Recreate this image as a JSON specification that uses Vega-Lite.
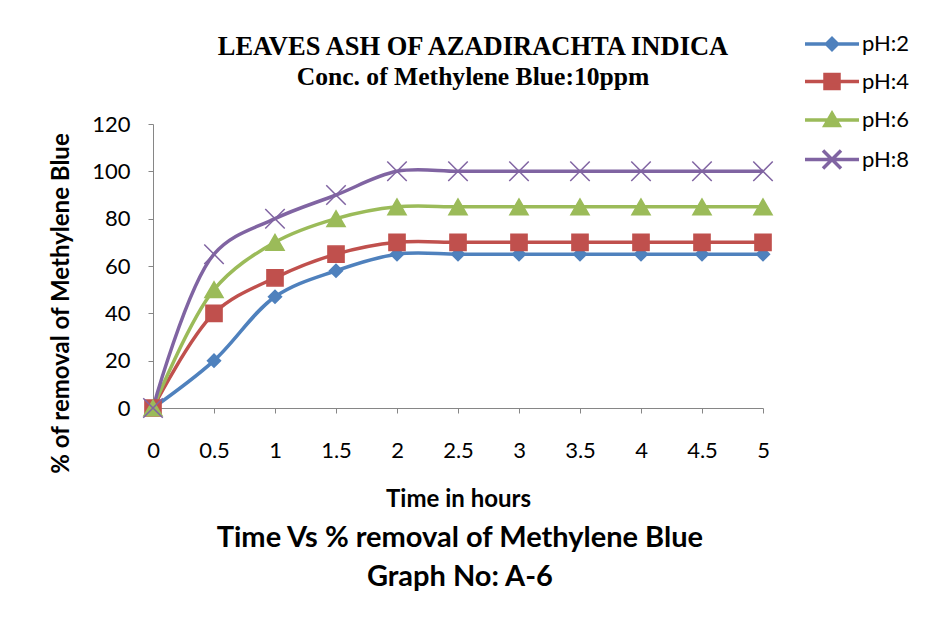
{
  "$schema": "https://vega.github.io/schema/vega-lite/v6.json",
  "background": "white",
  "padding": {"left": 49, "top": 32, "right": 5, "bottom": 5},
  "config": {"font": "Lato", "view": {"stroke": null}},
  "data": {"values": [
    {"time": 0, "removal": 0, "series": "pH:2"},
    {"time": 0.5, "removal": 20, "series": "pH:2"},
    {"time": 1, "removal": 47, "series": "pH:2"},
    {"time": 1.5, "removal": 58, "series": "pH:2"},
    {"time": 2, "removal": 65, "series": "pH:2"},
    {"time": 2.5, "removal": 65, "series": "pH:2"},
    {"time": 3, "removal": 65, "series": "pH:2"},
    {"time": 3.5, "removal": 65, "series": "pH:2"},
    {"time": 4, "removal": 65, "series": "pH:2"},
    {"time": 4.5, "removal": 65, "series": "pH:2"},
    {"time": 5, "removal": 65, "series": "pH:2"},
    {"time": 0, "removal": 0, "series": "pH:4"},
    {"time": 0.5, "removal": 40, "series": "pH:4"},
    {"time": 1, "removal": 55, "series": "pH:4"},
    {"time": 1.5, "removal": 65, "series": "pH:4"},
    {"time": 2, "removal": 70, "series": "pH:4"},
    {"time": 2.5, "removal": 70, "series": "pH:4"},
    {"time": 3, "removal": 70, "series": "pH:4"},
    {"time": 3.5, "removal": 70, "series": "pH:4"},
    {"time": 4, "removal": 70, "series": "pH:4"},
    {"time": 4.5, "removal": 70, "series": "pH:4"},
    {"time": 5, "removal": 70, "series": "pH:4"},
    {"time": 0, "removal": 0, "series": "pH:6"},
    {"time": 0.5, "removal": 50, "series": "pH:6"},
    {"time": 1, "removal": 70, "series": "pH:6"},
    {"time": 1.5, "removal": 80, "series": "pH:6"},
    {"time": 2, "removal": 85, "series": "pH:6"},
    {"time": 2.5, "removal": 85, "series": "pH:6"},
    {"time": 3, "removal": 85, "series": "pH:6"},
    {"time": 3.5, "removal": 85, "series": "pH:6"},
    {"time": 4, "removal": 85, "series": "pH:6"},
    {"time": 4.5, "removal": 85, "series": "pH:6"},
    {"time": 5, "removal": 85, "series": "pH:6"},
    {"time": 0, "removal": 0, "series": "pH:8"},
    {"time": 0.5, "removal": 65, "series": "pH:8"},
    {"time": 1, "removal": 80, "series": "pH:8"},
    {"time": 1.5, "removal": 90, "series": "pH:8"},
    {"time": 2, "removal": 100, "series": "pH:8"},
    {"time": 2.5, "removal": 100, "series": "pH:8"},
    {"time": 3, "removal": 100, "series": "pH:8"},
    {"time": 3.5, "removal": 100, "series": "pH:8"},
    {"time": 4, "removal": 100, "series": "pH:8"},
    {"time": 4.5, "removal": 100, "series": "pH:8"},
    {"time": 5, "removal": 100, "series": "pH:8"}
  ]},
  "title": {
    "text": "Time Vs % removal of Methylene Blue",
    "subtitle": "Graph No: A-6",
    "orient": "bottom",
    "anchor": "middle",
    "dx": -20,
    "font": "Lato", "fontSize": 29, "fontWeight": "bold", "color": "black",
    "subtitleFont": "Lato", "subtitleFontSize": 29, "subtitleFontWeight": "bold", "subtitleColor": "black",
    "subtitlePadding": 10,
    "offset": 13
  },
  "vconcat": [
    {
      "width": 610,
      "height": 284,
      "title": {
        "text": "LEAVES ASH OF AZADIRACHTA INDICA",
        "subtitle": "Conc. of Methylene Blue:10ppm",
        "font": "Liberation Serif", "fontSize": 26.5, "fontWeight": "bold", "color": "black",
        "subtitleFont": "Liberation Serif", "subtitleFontSize": 25.6, "subtitleFontWeight": "bold", "subtitleColor": "black",
        "subtitlePadding": 5,
        "offset": 22,
        "dx": 15
      },
      "encoding": {
        "x": {
          "field": "time", "type": "quantitative",
          "scale": {"domain": [0, 5], "nice": false, "zero": false},
          "axis": {
            "values": [0, 0.5, 1, 1.5, 2, 2.5, 3, 3.5, 4, 4.5, 5],
            "format": "~g",
            "grid": false, "domainColor": "#868686", "tickColor": "#868686", "tickSize": 5,
            "labelFont": "Lato", "labelFontSize": 22, "labelColor": "black", "labelPadding": 27,
            "labelFlush": false, "labelOverlap": false,
            "title": "Time in hours", "titleFont": "Lato", "titleFontSize": 24, "titleFontWeight": "bold",
            "titleColor": "black", "titlePadding": 26
          }
        },
        "y": {
          "field": "removal", "type": "quantitative",
          "scale": {"domain": [0, 120], "nice": false},
          "axis": {
            "values": [0, 20, 40, 60, 80, 100, 120],
            "grid": false, "domainColor": "#868686", "tickColor": "#868686", "tickSize": 5,
            "labelFont": "Lato", "labelFontSize": 22, "labelColor": "black", "labelPadding": 18,
            "title": "% of removal of Methylene Blue", "titleFont": "Lato", "titleFontSize": 24,
            "titleFontWeight": "bold", "titleColor": "black", "titlePadding": 18, "titleY": 179
          }
        }
      },
      "layer": [
        {
          "mark": {"type": "line", "interpolate": "catmull-rom", "strokeWidth": 3.5},
          "encoding": {
            "color": {
              "field": "series", "type": "nominal",
              "scale": {"domain": ["pH:2", "pH:4", "pH:6", "pH:8"], "range": ["#4F81BD", "#C0504D", "#9BBB59", "#8064A2"]},
              "legend": {
                "title": null, "orient": "none", "legendX": 667, "legendY": -92,
                "labelFont": "Lato", "labelFontSize": 22, "labelColor": "black", "labelOffset": 18,
                "symbolSize": 400, "symbolStrokeWidth": 3.5, "rowPadding": 10.5, "padding": 0,
                "symbolType": {"expr": "datum.value === 'pH:2' ? 'M-2.7,0H2.7M0,-0.55L0.55,0L0,0.55L-0.55,0Z' : datum.value === 'pH:4' ? 'M-2.7,0H2.7M-0.7,-0.7H0.7V0.7H-0.7Z' : datum.value === 'pH:6' ? 'M-2.7,0H2.7M0,-0.65L0.7,0.55H-0.7Z' : 'M-2.7,0H2.7M-0.9,-0.9L0.9,0.9M-0.9,0.9L0.9,-0.9'"},
                "symbolFillColor": {"expr": "scale('color', datum.value)"}
              }
            }
          }
        },
        {
          "transform": [{"filter": "datum.series === 'pH:2'"}],
          "mark": {"type": "point", "shape": "diamond", "filled": true, "color": "#4F81BD", "stroke": "#4F81BD", "strokeWidth": 1.5, "size": 170, "opacity": 1}
        },
        {
          "transform": [{"filter": "datum.series === 'pH:4'"}],
          "mark": {"type": "point", "shape": "square", "filled": true, "color": "#C0504D", "stroke": "#C0504D", "strokeWidth": 1.5, "size": 260, "opacity": 1}
        },
        {
          "transform": [{"filter": "datum.series === 'pH:6'"}],
          "mark": {"type": "point", "shape": "triangle-up", "filled": true, "color": "#9BBB59", "stroke": "#9BBB59", "strokeWidth": 1.5, "size": 330, "opacity": 1}
        },
        {
          "transform": [{"filter": "datum.series === 'pH:8'"}],
          "mark": {"type": "point", "shape": "M-1,-1L1,1M-1,1L1,-1", "filled": false, "color": "#8064A2", "stroke": "#8064A2", "strokeWidth": 1.5, "size": 380, "opacity": 1}
        }
      ]
    }
  ]
}
